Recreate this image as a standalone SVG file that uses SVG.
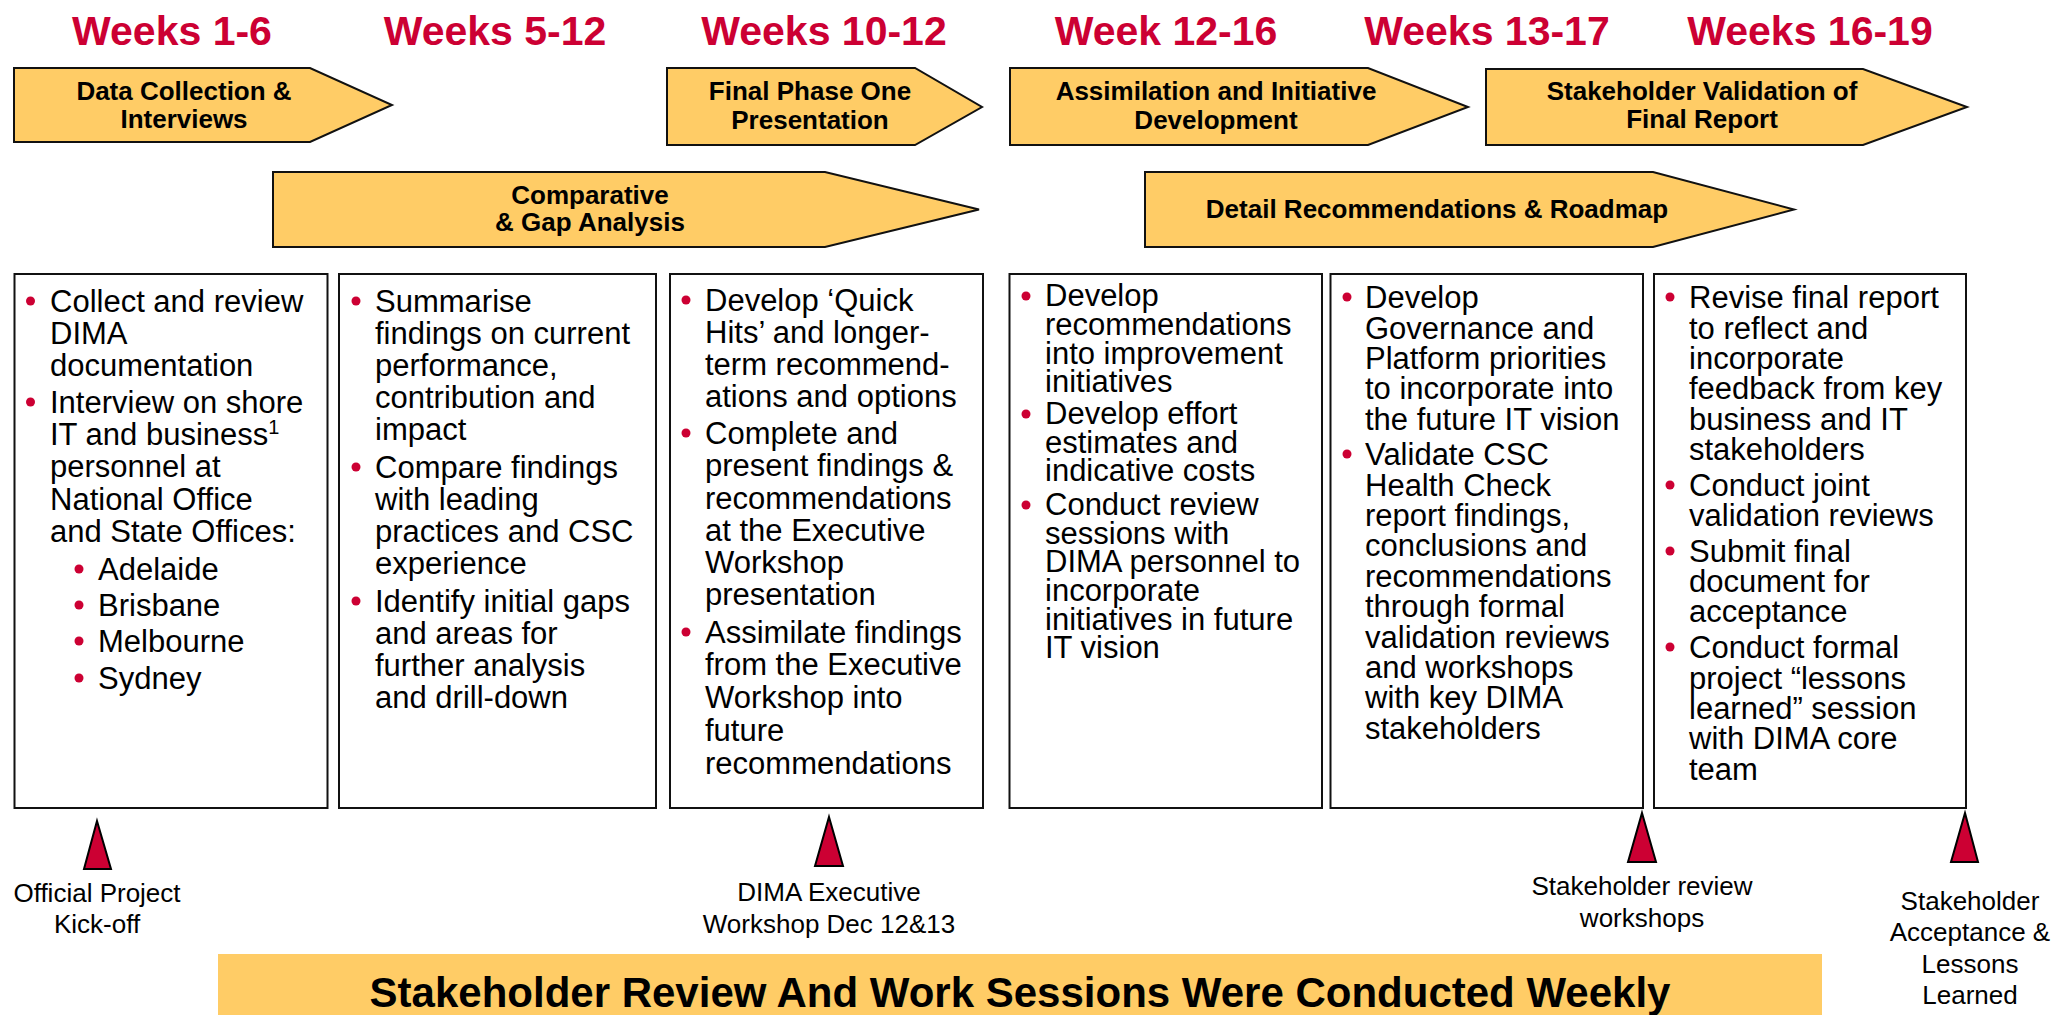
<svg xmlns="http://www.w3.org/2000/svg" width="2071" height="1015" viewBox="0 0 2071 1015">
  <style>
    text { font-family: "Liberation Sans", Arial, sans-serif; }
    .week { font-size: 41px; font-weight: bold; fill: #CC0033; text-anchor: middle; }
    .phase { fill: #FFCC66; stroke: #111; stroke-width: 2; stroke-linejoin: miter; }
    .plabel { font-size: 26px; font-weight: bold; fill: #000; text-anchor: middle; }
    .box { fill: #fff; stroke: #111; stroke-width: 2; }
    .body { font-size: 31px; fill: #000; }
    .dot { fill: #CC0033; }
    .mark { fill: #CC0033; stroke: #000; stroke-width: 2; stroke-linejoin: miter; }
    .mlabel { font-size: 26px; fill: #000; text-anchor: middle; }
    .banner { fill: #FFCC66; }
    .btext { font-size: 42px; font-weight: bold; fill: #000; text-anchor: middle; }
  </style>

  <!-- week headings -->
  <g id="weeks">
    <text class="week" x="172" y="45">Weeks 1-6</text>
    <text class="week" x="495" y="45">Weeks 5-12</text>
    <text class="week" x="824" y="45">Weeks 10-12</text>
    <text class="week" x="1166" y="45">Week 12-16</text>
    <text class="week" x="1487" y="45">Weeks 13-17</text>
    <text class="week" x="1810" y="45">Weeks 16-19</text>
  </g>

  <!-- phase arrows -->
  <g id="phase-data-collection">
    <path class="phase" d="M14,68 H310 L392,105 L310,142 H14 Z"/>
    <text class="plabel" x="184" y="100">Data Collection &amp;</text>
    <text class="plabel" x="184" y="128">Interviews</text>
  </g>
  <g id="phase-final-presentation">
    <path class="phase" d="M667,68 H915 L982,107 L915,145 H667 Z"/>
    <text class="plabel" x="810" y="100">Final Phase One</text>
    <text class="plabel" x="810" y="129">Presentation</text>
  </g>
  <g id="phase-assimilation">
    <path class="phase" d="M1010,68 H1368 L1468,107 L1368,145 H1010 Z"/>
    <text class="plabel" x="1216" y="100">Assimilation and Initiative</text>
    <text class="plabel" x="1216" y="129">Development</text>
  </g>
  <g id="phase-validation">
    <path class="phase" d="M1486,69 H1863 L1967,107 L1863,145 H1486 Z"/>
    <text class="plabel" x="1702" y="100">Stakeholder Validation of</text>
    <text class="plabel" x="1702" y="128">Final Report</text>
  </g>
  <g id="phase-gap-analysis">
    <path class="phase" d="M273,172 H825 L979,209.5 L825,247 H273 Z"/>
    <text class="plabel" x="590" y="204">Comparative</text>
    <text class="plabel" x="590" y="231">&amp; Gap Analysis</text>
  </g>
  <g id="phase-roadmap">
    <path class="phase" d="M1145,172 H1653 L1794,209.5 L1653,247 H1145 Z"/>
    <text class="plabel" x="1437" y="218">Detail Recommendations &amp; Roadmap</text>
  </g>

  <!-- activity boxes -->
  <g id="box-1">
    <rect class="box" x="14.5" y="274" width="313" height="534"/>
    <circle class="dot" cx="30.5" cy="301" r="4.5"/>
    <circle class="dot" cx="30.5" cy="402" r="4.5"/>
    <circle class="dot" cx="79" cy="569" r="4.5"/>
    <circle class="dot" cx="79" cy="605" r="4.5"/>
    <circle class="dot" cx="79" cy="641" r="4.5"/>
    <circle class="dot" cx="79" cy="678" r="4.5"/>
    <text class="body">
      <tspan x="50" y="312">Collect and review</tspan>
      <tspan x="50" y="344">DIMA</tspan>
      <tspan x="50" y="376">documentation</tspan>
      <tspan x="50" y="413">Interview on shore</tspan>
      <tspan x="50" y="445">IT and business</tspan><tspan dy="-11" font-size="20">1</tspan>
      <tspan x="50" y="477">personnel at</tspan>
      <tspan x="50" y="510">National Office</tspan>
      <tspan x="50" y="542">and State Offices:</tspan>
      <tspan x="98" y="580">Adelaide</tspan>
      <tspan x="98" y="616">Brisbane</tspan>
      <tspan x="98" y="652">Melbourne</tspan>
      <tspan x="98" y="689">Sydney</tspan>
    </text>
  </g>

  <g id="box-2">
    <rect class="box" x="339" y="274" width="317" height="534"/>
    <circle class="dot" cx="356" cy="301" r="4.5"/>
    <circle class="dot" cx="356" cy="467" r="4.5"/>
    <circle class="dot" cx="356" cy="601" r="4.5"/>
    <text class="body">
      <tspan x="375" y="312">Summarise</tspan>
      <tspan x="375" y="344">findings on current</tspan>
      <tspan x="375" y="376">performance,</tspan>
      <tspan x="375" y="408">contribution and</tspan>
      <tspan x="375" y="440">impact</tspan>
      <tspan x="375" y="478">Compare findings</tspan>
      <tspan x="375" y="510">with leading</tspan>
      <tspan x="375" y="542">practices and CSC</tspan>
      <tspan x="375" y="574">experience</tspan>
      <tspan x="375" y="612">Identify initial gaps</tspan>
      <tspan x="375" y="644">and areas for</tspan>
      <tspan x="375" y="676">further analysis</tspan>
      <tspan x="375" y="708">and drill-down</tspan>
    </text>
  </g>

  <g id="box-3">
    <rect class="box" x="670" y="274" width="313" height="534"/>
    <circle class="dot" cx="686" cy="300" r="4.5"/>
    <circle class="dot" cx="686" cy="433" r="4.5"/>
    <circle class="dot" cx="686" cy="632" r="4.5"/>
    <text class="body">
      <tspan x="705" y="311">Develop ‘Quick</tspan>
      <tspan x="705" y="343">Hits’ and longer-</tspan>
      <tspan x="705" y="375">term recommend-</tspan>
      <tspan x="705" y="407">ations and options</tspan>
      <tspan x="705" y="444">Complete and</tspan>
      <tspan x="705" y="476">present findings &amp;</tspan>
      <tspan x="705" y="509">recommendations</tspan>
      <tspan x="705" y="541">at the Executive</tspan>
      <tspan x="705" y="573">Workshop</tspan>
      <tspan x="705" y="605">presentation</tspan>
      <tspan x="705" y="643">Assimilate findings</tspan>
      <tspan x="705" y="675">from the Executive</tspan>
      <tspan x="705" y="708">Workshop into</tspan>
      <tspan x="705" y="741">future</tspan>
      <tspan x="705" y="774">recommendations</tspan>
    </text>
  </g>

  <g id="box-4">
    <rect class="box" x="1009.5" y="274" width="312.5" height="534"/>
    <circle class="dot" cx="1026" cy="296" r="4.5"/>
    <circle class="dot" cx="1026" cy="414" r="4.5"/>
    <circle class="dot" cx="1026" cy="505" r="4.5"/>
    <text class="body">
      <tspan x="1045" y="306">Develop</tspan>
      <tspan x="1045" y="335">recommendations</tspan>
      <tspan x="1045" y="364">into improvement</tspan>
      <tspan x="1045" y="392">initiatives</tspan>
      <tspan x="1045" y="424">Develop effort</tspan>
      <tspan x="1045" y="453">estimates and</tspan>
      <tspan x="1045" y="481">indicative costs</tspan>
      <tspan x="1045" y="515">Conduct review</tspan>
      <tspan x="1045" y="544">sessions with</tspan>
      <tspan x="1045" y="572">DIMA personnel to</tspan>
      <tspan x="1045" y="601">incorporate</tspan>
      <tspan x="1045" y="630">initiatives in future</tspan>
      <tspan x="1045" y="658">IT vision</tspan>
    </text>
  </g>

  <g id="box-5">
    <rect class="box" x="1330.5" y="274" width="312.5" height="534"/>
    <circle class="dot" cx="1347" cy="297" r="4.5"/>
    <circle class="dot" cx="1347" cy="454" r="4.5"/>
    <text class="body">
      <tspan x="1365" y="308">Develop</tspan>
      <tspan x="1365" y="339">Governance and</tspan>
      <tspan x="1365" y="369">Platform priorities</tspan>
      <tspan x="1365" y="399">to incorporate into</tspan>
      <tspan x="1365" y="430">the future IT vision</tspan>
      <tspan x="1365" y="465">Validate CSC</tspan>
      <tspan x="1365" y="496">Health Check</tspan>
      <tspan x="1365" y="526">report findings,</tspan>
      <tspan x="1365" y="556">conclusions and</tspan>
      <tspan x="1365" y="587">recommendations</tspan>
      <tspan x="1365" y="617">through formal</tspan>
      <tspan x="1365" y="648">validation reviews</tspan>
      <tspan x="1365" y="678">and workshops</tspan>
      <tspan x="1365" y="708">with key DIMA</tspan>
      <tspan x="1365" y="739">stakeholders</tspan>
    </text>
  </g>

  <g id="box-6">
    <rect class="box" x="1654" y="274" width="312" height="534"/>
    <circle class="dot" cx="1670" cy="297" r="4.5"/>
    <circle class="dot" cx="1670" cy="485" r="4.5"/>
    <circle class="dot" cx="1670" cy="551" r="4.5"/>
    <circle class="dot" cx="1670" cy="647" r="4.5"/>
    <text class="body">
      <tspan x="1689" y="308">Revise final report</tspan>
      <tspan x="1689" y="339">to reflect and</tspan>
      <tspan x="1689" y="369">incorporate</tspan>
      <tspan x="1689" y="399">feedback from key</tspan>
      <tspan x="1689" y="430">business and IT</tspan>
      <tspan x="1689" y="460">stakeholders</tspan>
      <tspan x="1689" y="496">Conduct joint</tspan>
      <tspan x="1689" y="526">validation reviews</tspan>
      <tspan x="1689" y="562">Submit final</tspan>
      <tspan x="1689" y="592">document for</tspan>
      <tspan x="1689" y="622">acceptance</tspan>
      <tspan x="1689" y="658">Conduct formal</tspan>
      <tspan x="1689" y="689">project “lessons</tspan>
      <tspan x="1689" y="719">learned” session</tspan>
      <tspan x="1689" y="749">with DIMA core</tspan>
      <tspan x="1689" y="780">team</tspan>
    </text>
  </g>

  <!-- milestone markers -->
  <g id="milestone-kickoff">
    <path class="mark" d="M97,821 L111,869 H84 Z"/>
    <text class="mlabel" x="97" y="902">Official Project</text>
    <text class="mlabel" x="97" y="933">Kick-off</text>
  </g>
  <g id="milestone-executive-workshop">
    <path class="mark" d="M829,817 L843,866 H815 Z"/>
    <text class="mlabel" x="829" y="901">DIMA Executive</text>
    <text class="mlabel" x="829" y="933">Workshop Dec 12&amp;13</text>
  </g>
  <g id="milestone-review-workshops">
    <path class="mark" d="M1642,813 L1656,862 H1628 Z"/>
    <text class="mlabel" x="1642" y="895">Stakeholder review</text>
    <text class="mlabel" x="1642" y="927">workshops</text>
  </g>
  <g id="milestone-acceptance">
    <path class="mark" d="M1965,813 L1978,862 H1951 Z"/>
    <text class="mlabel" x="1970" y="910">Stakeholder</text>
    <text class="mlabel" x="1970" y="941">Acceptance &amp;</text>
    <text class="mlabel" x="1970" y="973">Lessons</text>
    <text class="mlabel" x="1970" y="1004">Learned</text>
  </g>

  <!-- weekly sessions banner -->
  <g id="banner">
    <rect class="banner" x="218" y="954" width="1604" height="70"/>
    <text class="btext" x="1020" y="1007">Stakeholder Review And Work Sessions Were Conducted Weekly</text>
  </g>

  <!-- no connectors between nodes in this chart -->
  <g id="connectors"/>
</svg>
